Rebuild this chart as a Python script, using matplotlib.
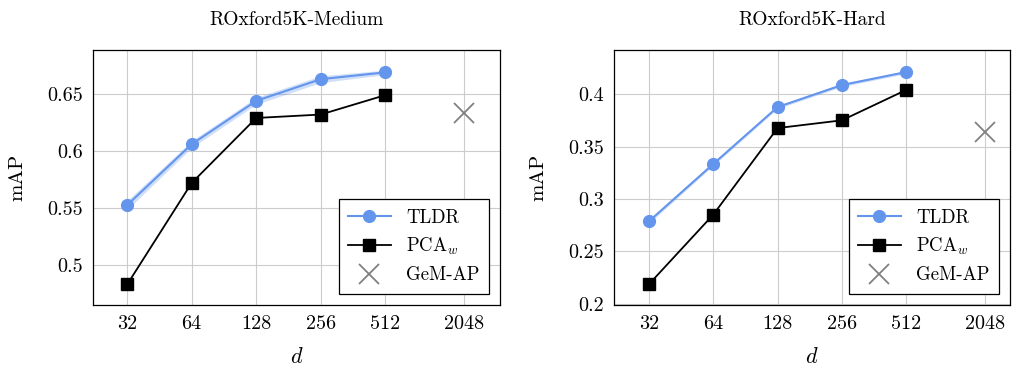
import numpy as np
import matplotlib.pyplot as plt

plt.rcParams['font.family'] = 'serif'
plt.rcParams['font.serif'] = ['cmr10']
plt.rcParams['mathtext.fontset'] = 'cm'
plt.rcParams['axes.formatter.use_mathtext'] = True

dims = ['32', '64', '128', '256', '512', '2048']
xpos = [0, 1, 2, 3, 4]
gem_x = 5.22

# ROxford5K-Medium
med_tldr = [0.5526, 0.606, 0.644, 0.663, 0.669]
med_tldr_std = [0.004, 0.003, 0.003, 0.003, 0.002]
med_pca = [0.483, 0.572, 0.629, 0.632, 0.649]
med_gem = 0.633

# ROxford5K-Hard
hard_tldr = [0.2786, 0.3333, 0.3876, 0.4086, 0.421]
hard_tldr_std = [0.002, 0.0015, 0.0015, 0.0015, 0.0015]
hard_pca = [0.2186, 0.285, 0.3676, 0.375, 0.404]
hard_gem = 0.364

blue = '#6495ED'

fig = plt.figure(figsize=(10.18, 3.67), dpi=100)
ax1 = fig.add_axes([93/1018, 1-305/367, 407/1018, 255/367])
ax2 = fig.add_axes([614/1018, 1-305/367, 396/1018, 255/367])


def panel(ax, title, tldr, std, pca, gem, ylim, yticks, ylabels, xlim, ylpad):
    t = np.array(tldr)
    s = np.array(std)
    ax.fill_between(xpos, t - s, t + s, color=blue, alpha=0.3, lw=0, zorder=2)
    ax.plot(xpos, tldr, '-o', color=blue, ms=8.5, lw=1.5, label='TLDR', zorder=3)
    ax.plot(xpos, pca, '-s', color='black', ms=8.5, lw=1.3,
            markerfacecolor='black', label=r'PCA$_w$', zorder=3)
    ax.plot([gem_x], [gem], 'x', color='gray', ms=15, mew=1.3, ls='none',
            label='GeM-AP', zorder=3)
    ax.set_xlim(*xlim)
    ax.set_ylim(*ylim)
    ax.set_xticks(xpos + [gem_x])
    ax.set_xticklabels(dims)
    ax.set_yticks(yticks)
    ax.set_yticklabels(ylabels)
    ax.grid(True, color='#cccccc', lw=0.8, zorder=0)
    ax.set_axisbelow(True)
    ax.tick_params(labelsize=14.5, length=0, pad=7)
    ax.set_title(title, fontsize=14, pad=18)
    ax.set_xlabel(r'$d$', fontsize=16, labelpad=10)
    ax.set_ylabel('mAP', fontsize=15, labelpad=ylpad)
    for sp in ax.spines.values():
        sp.set_linewidth(0.9)
    leg = ax.legend(loc='lower right', fontsize=13.5, fancybox=False,
                    edgecolor='black', framealpha=1, borderaxespad=0.6,
                    handlelength=2.3, borderpad=0.5, labelspacing=0.5)
    leg.get_frame().set_linewidth(0.9)


panel(ax1, 'ROxford5K-Medium', med_tldr, med_tldr_std, med_pca, med_gem,
      (0.465, 0.6886), [0.5, 0.55, 0.6, 0.65], ['0.5', '0.55', '0.6', '0.65'],
      (-0.53, 5.78), 15)
panel(ax2, 'ROxford5K-Hard', hard_tldr, hard_tldr_std, hard_pca, hard_gem,
      (0.199, 0.442), [0.2, 0.25, 0.3, 0.35, 0.4],
      ['0.2', '0.25', '0.3', '0.35', '0.4'], (-0.54, 5.61), 15)

fig.savefig('out.png', dpi=100)
